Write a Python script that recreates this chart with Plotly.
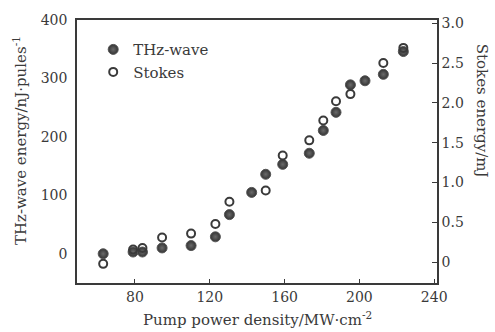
import plotly.graph_objects as go

# Data
power_thz = [63, 79, 84, 94.5, 110, 123, 130.5, 142.4, 149.9, 159, 173.2, 180.7, 187.5, 195.2, 203, 212.8, 223.5]
thz_energy = [0, 3, 3, 10, 14, 29, 67, 105, 136, 153, 172, 211, 242, 289, 296, 307, 346]
power_stokes = [63, 79, 84, 94.5, 110, 123, 130.5, 149.9, 159, 173.2, 180.7, 187.5, 195.2, 212.8, 223.5]
stokes_energy = [-0.02, 0.16, 0.18, 0.31, 0.36, 0.48, 0.76, 0.90, 1.34, 1.53, 1.78, 2.02, 2.11, 2.50, 2.69]

x_ticks = [80, 120, 160, 200, 240]
y_ticks = [0, 100, 200, 300, 400]
y2_ticks = [0, 0.5, 1.0, 1.5, 2.0, 2.5, 3.0]
y2_labels = ["0", "0.5", "1.0", "1.5", "2.0", "2.5", "3.0"]

FONT = "DejaVu Serif"
INK = "#3a3a3a"

fig = go.Figure()
fig.add_trace(go.Scatter(
    x=power_thz, y=thz_energy, mode="markers", name="THz-wave",
    marker=dict(symbol="circle", size=10, color="#333333",
                line=dict(color="#555555", width=1),
                gradient=dict(type="radial", color="#6a6a6a")),
    yaxis="y"))
fig.add_trace(go.Scatter(
    x=power_stokes, y=stokes_energy, mode="markers", name="Stokes",
    marker=dict(symbol="circle-open", size=8, color=INK, line=dict(color=INK, width=2)),
    yaxis="y2"))

fig.update_layout(
    width=495, height=332,
    margin=dict(l=77, r=58, t=18, b=49),
    paper_bgcolor="white", plot_bgcolor="white",
    font=dict(family=FONT, size=14, color=INK),
    showlegend=True,
    legend=dict(x=0.045, y=0.95, xanchor="left", yanchor="top",
                bgcolor="rgba(0,0,0,0)", borderwidth=0,
                font=dict(family=FONT, size=15, color=INK),
                itemwidth=30, tracegroupgap=0),
    xaxis=dict(range=[49, 241.5], tickvals=x_ticks, ticks="inside", ticklen=4,
               tickcolor=INK, showline=True, linecolor=INK, linewidth=1.5,
               mirror=True, showgrid=False, zeroline=False,
               tickfont=dict(family=FONT, size=14, color=INK)),
    yaxis=dict(range=[-50, 400], tickvals=y_ticks, ticks="", showline=True,
               linecolor=INK, linewidth=1.5, showgrid=False, zeroline=False,
               ticklabelstandoff=5,
               tickfont=dict(family=FONT, size=14, color=INK)),
    yaxis2=dict(range=[-0.26, 3.04], tickvals=y2_ticks, ticktext=y2_labels,
                overlaying="y", side="right", ticks="inside", ticklen=5,
                tickcolor=INK, showline=True, linecolor=INK, linewidth=1.5,
                showgrid=False, zeroline=False,
                tickfont=dict(family=FONT, size=14, color=INK)),
    annotations=[
        dict(text="Pump power density/MW·cm<sup>-2</sup>", xref="paper", yref="paper",
             x=0.5, y=-0.135, xanchor="center", yanchor="middle", showarrow=False,
             font=dict(family=FONT, size=15, color=INK)),
        dict(text="THz-wave energy/nJ·pules<sup>-1</sup>", xref="paper", yref="paper",
             x=-0.158, y=0.54, xanchor="center", yanchor="middle", textangle=-90,
             showarrow=False, font=dict(family=FONT, size=15, color=INK)),
        dict(text="Stokes energy/mJ", xref="paper", yref="paper",
             x=1.125, y=0.655, xanchor="center", yanchor="middle", textangle=90,
             showarrow=False, font=dict(family=FONT, size=15, color=INK)),
    ],
)

fig.write_html("out.html")
